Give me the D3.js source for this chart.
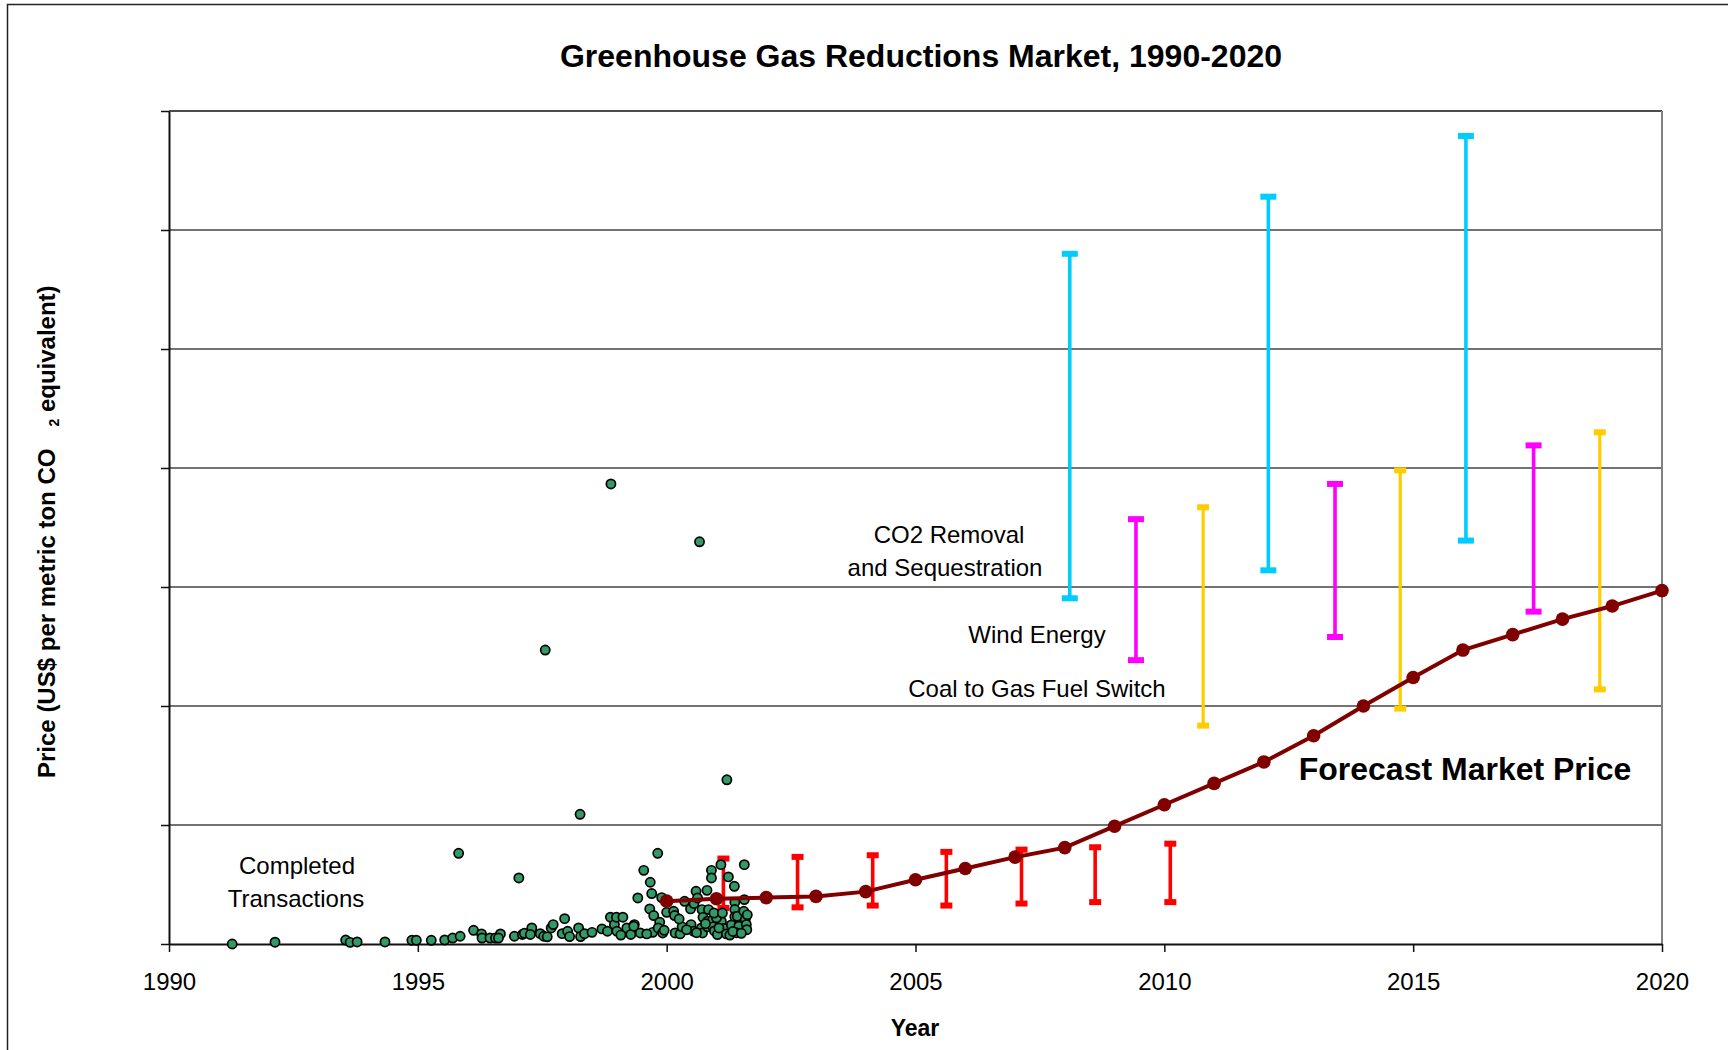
<!DOCTYPE html>
<html>
<head>
<meta charset="utf-8">
<script src="https://cdn.jsdelivr.net/npm/d3@7"></script>
<style>
  body { margin: 0; background: #fff; }
  svg { display: block; font-family: "Liberation Sans", Arial, sans-serif; }
</style>
</head>
<body>
<svg id="chart" width="1728" height="1050"></svg>
<script>
// completed transactions (year, price in chart units; one gridline = 10)
const txYears = [
  1991.27, 1992.13, 1993.55, 1993.64, 1993.78, 1994.34, 1994.88, 1994.97, 1995.27, 1995.54,
  1995.70, 1995.85, 1995.82, 1996.12, 1996.28, 1996.29, 1996.45, 1996.56, 1996.66, 1996.62,
  1996.94, 1997.03, 1997.10, 1997.14, 1997.29, 1997.26, 1997.46, 1997.53, 1997.56, 1997.60,
  1997.68, 1997.72, 1997.95, 1997.90, 1998.01, 1998.05, 1998.23, 1998.26, 1998.27, 1998.35,
  1998.50, 1998.70, 1998.81, 1998.87, 1998.88, 1998.95, 1998.99, 1999.00, 1999.08, 1999.12,
  1999.20, 1999.28, 1999.35, 1999.34, 1999.42, 1999.47, 1999.54, 1999.67, 1999.70, 1999.66,
  1999.74, 1999.72, 1999.82, 1999.86, 1999.83, 1999.90, 1999.92, 2000.00, 2000.14, 2000.16,
  2000.17, 2000.27, 2000.31, 2000.36, 2000.48, 2000.49, 2000.54, 2000.55, 2000.59, 2000.62,
  2000.66, 2000.71, 2000.73, 2000.70, 2000.72, 2000.81, 2000.82, 2000.82, 2000.84, 2000.90,
  2000.90, 2000.93, 2000.93, 2000.96, 2001.02, 2001.09, 2001.21, 2001.24, 2001.36, 2001.37,
  2001.37, 2001.37, 2001.10, 2001.15, 2001.20, 2001.30, 2001.27, 2001.42, 2001.45, 2001.40,
  2001.56, 2001.56, 2001.55, 2001.58, 2001.60, 2001.61, 2001.05, 2001.00, 2000.95, 2000.40,
  2000.60, 2000.78, 2001.12, 2001.33, 2001.50, 2001.62, 1999.60, 1999.95, 2000.25
];
const txPrices = [
  0.00, 0.15, 0.33, 0.14, 0.17, 0.17, 0.31, 0.31, 0.31, 0.34,
  0.50, 0.65, 7.62, 1.15, 0.85, 0.50, 0.50, 0.50, 0.85, 0.50,
  0.65, 5.55, 0.80, 0.90, 1.35, 0.80, 0.87, 0.65, 24.7, 0.60,
  1.35, 1.63, 2.13, 0.87, 1.07, 0.62, 1.35, 10.9, 0.62, 0.87,
  0.98, 1.27, 1.07, 2.25, 38.66, 1.63, 2.25, 1.07, 0.75, 2.25,
  1.35, 0.80, 1.63, 1.49, 3.87, 0.93, 6.19, 5.19, 4.24, 2.95,
  2.39, 0.98, 7.62, 1.83, 1.35, 3.90, 0.93, 2.66, 2.75, 2.39,
  0.93, 0.85, 1.44, 3.59, 2.95, 1.63, 1.07, 3.40, 4.43, 3.87,
  33.8, 2.89, 2.24, 1.35, 0.93, 4.51, 1.91, 1.44, 2.89, 6.19,
  5.55, 2.05, 1.44, 1.10, 0.79, 6.67, 13.8, 5.64, 4.85, 3.50,
  2.90, 2.30, 1.90, 1.30, 0.85, 1.60, 0.75, 2.33, 1.50, 0.95,
  6.67, 3.73, 2.75, 2.05, 1.63, 1.20, 1.35, 2.20, 2.60, 1.20,
  0.95, 1.70, 2.60, 1.05, 0.90, 2.45, 0.85, 1.15, 2.10
];

// forecast market price
const forecastYears = d3.range(2000, 2021);
const forecastPrices = [3.6, 3.8, 3.9, 4.0, 4.4, 5.4, 6.35, 7.3, 8.1, 9.9, 11.7,
  13.5, 15.3, 17.5, 20.0, 22.4, 24.7, 26.0, 27.3, 28.4, 29.7];

// price ranges
const nearYears = [2001.14, 2002.63, 2004.14, 2005.62, 2007.13, 2008.61, 2010.12];
const nearLow = [3.03, 3.08, 3.23, 3.23, 3.4, 3.52, 3.52];
const nearHigh = [7.18, 7.32, 7.46, 7.74, 7.93, 8.13, 8.43];

const co2Years = [2008.1, 2012.09, 2016.06];
const co2Low = [29.05, 31.4, 33.9];
const co2High = [58.0, 62.8, 67.9];

const windYears = [2009.43, 2013.43, 2017.42];
const windLow = [23.85, 25.8, 27.93];
const windHigh = [35.7, 38.66, 41.9];

const coalYears = [2010.78, 2014.74, 2018.75];
const coalLow = [18.35, 19.78, 21.4];
const coalHigh = [36.7, 39.8, 43.0];

const xTicks = [1990, 1995, 2000, 2005, 2010, 2015, 2020];
const yTicks = [0, 10, 20, 30, 40, 50, 60, 70];

const svg = d3.select("#chart");

const area = { left: 169, right: 1662, top: 111, bottom: 944 };

const scX = d3.scaleLinear().domain([1990, 2020]).range([area.left, area.right]);
const scY = d3.scaleLinear().domain([0, 70]).range([area.bottom, area.top]);

// outer frame (runs off the right and bottom edge)
svg.append("rect")
    .attr("x", 7.5).attr("y", 4.5)
    .attr("width", 1800).attr("height", 1100)
    .attr("fill", "none")
    .attr("stroke", "#222")
    .attr("stroke-width", 1.5);

// gridlines
svg.append("g")
    .selectAll("line")
    .data(yTicks.filter(d => d > 0 && d < 70))
    .enter()
    .append("line")
    .attr("x1", area.left).attr("x2", area.right)
    .attr("y1", d => scY(d)).attr("y2", d => scY(d))
    .attr("stroke", "#444")
    .attr("stroke-width", 1.4);

// plot frame top / right
svg.append("line")
    .attr("x1", area.left).attr("x2", area.right)
    .attr("y1", scY(70)).attr("y2", scY(70))
    .attr("stroke", "#111").attr("stroke-width", 1.4);
svg.append("line")
    .attr("x1", area.right).attr("x2", area.right)
    .attr("y1", scY(70)).attr("y2", area.bottom)
    .attr("stroke", "#808080").attr("stroke-width", 2);

// axes
const axisX = d3.axisBottom(scX).tickValues(xTicks).tickFormat(d3.format("d"))
    .tickSize(8).tickSizeOuter(0).tickPadding(21);
const gx = svg.append("g")
    .attr("transform", `translate(0, ${area.bottom})`)
    .call(axisX);
gx.select(".domain").attr("stroke", "#111").attr("stroke-width", 2);
gx.selectAll(".tick line").attr("stroke", "#111").attr("stroke-width", 1.5);
gx.selectAll("text").attr("font-size", 24).attr("fill", "#000")
    .attr("font-family", "Liberation Sans, Arial, sans-serif");

const axisY = d3.axisLeft(scY).tickValues(yTicks).tickFormat("")
    .tickSize(8).tickSizeOuter(0);
const gy = svg.append("g")
    .attr("transform", `translate(${area.left}, 0)`)
    .call(axisY);
gy.select(".domain").attr("stroke", "#111").attr("stroke-width", 2);
gy.selectAll(".tick line").attr("stroke", "#111").attr("stroke-width", 1.5);

// range bars
function drawRangeBars(years, lows, highs, color, lineW, capW, capH) {
    const g = svg.append("g");
    years.forEach((yr, i) => {
        const x = scX(yr);
        g.append("line")
            .attr("x1", x).attr("x2", x)
            .attr("y1", scY(highs[i])).attr("y2", scY(lows[i]))
            .attr("stroke", color).attr("stroke-width", lineW);
        [highs[i], lows[i]].forEach(v => {
            g.append("rect")
                .attr("x", x - capW / 2).attr("y", scY(v) - capH / 2)
                .attr("width", capW).attr("height", capH)
                .attr("fill", color);
        });
    });
}

drawRangeBars(co2Years, co2Low, co2High, "#00CCFF", 3.6, 16, 6);
drawRangeBars(windYears, windLow, windHigh, "#FF00FF", 3.6, 16, 6);
drawRangeBars(coalYears, coalLow, coalHigh, "#FFCC00", 3.2, 12, 6);
drawRangeBars(nearYears, nearLow, nearHigh, "#FF0000", 3.6, 12, 6);

// completed transactions
svg.append("g")
    .selectAll("circle")
    .data(txYears.map((d, i) => ({ year: d, price: txPrices[i] })))
    .enter()
    .append("circle")
    .attr("cx", d => scX(d.year))
    .attr("cy", d => scY(d.price))
    .attr("r", 4.6)
    .attr("fill", "#339966")
    .attr("stroke", "#000")
    .attr("stroke-width", 1.7);

// forecast line
const forecast = forecastYears.map((d, i) => ({ year: d, price: forecastPrices[i] }));
const lineGen = d3.line().x(d => scX(d.year)).y(d => scY(d.price));
svg.append("path")
    .datum(forecast)
    .attr("fill", "none")
    .attr("stroke", "#800000")
    .attr("stroke-width", 4)
    .attr("d", lineGen);
svg.append("g")
    .selectAll("circle")
    .data(forecast)
    .enter()
    .append("circle")
    .attr("cx", d => scX(d.year))
    .attr("cy", d => scY(d.price))
    .attr("r", 6.8)
    .attr("fill", "#800000");

// texts
svg.append("text")
    .attr("x", 921).attr("y", 67)
    .attr("text-anchor", "middle")
    .attr("font-size", 32).attr("font-weight", "bold")
    .text("Greenhouse Gas Reductions Market, 1990-2020");

svg.append("text")
    .attr("x", 915).attr("y", 1036)
    .attr("text-anchor", "middle")
    .attr("font-size", 23).attr("font-weight", "bold")
    .text("Year");

const yLabel = svg.append("text")
    .attr("transform", "translate(55, 778) rotate(-90)")
    .attr("font-size", 24).attr("font-weight", "bold");
yLabel.append("tspan").text("Price (US$ per metric ton CO");
yLabel.append("tspan").attr("dx", 22).attr("dy", 3.7).attr("font-size", 14).text("2");
yLabel.append("tspan").attr("dy", -3.7).text(" equivalent)");

const notes = [
    { x: 297, y: 874, t: "Completed" },
    { x: 296, y: 907, t: "Transactions" },
    { x: 949, y: 543, t: "CO2 Removal" },
    { x: 945, y: 576, t: "and Sequestration" },
    { x: 1037, y: 643, t: "Wind Energy" },
    { x: 1037, y: 697, t: "Coal to Gas Fuel Switch" }
];
svg.append("g")
    .selectAll("text")
    .data(notes)
    .enter()
    .append("text")
    .attr("x", d => d.x).attr("y", d => d.y)
    .attr("text-anchor", "middle")
    .attr("font-size", 24)
    .text(d => d.t);

svg.append("text")
    .attr("x", 1465).attr("y", 780)
    .attr("text-anchor", "middle")
    .attr("font-size", 32).attr("font-weight", "bold")
    .text("Forecast Market Price");
</script>
</body>
</html>
